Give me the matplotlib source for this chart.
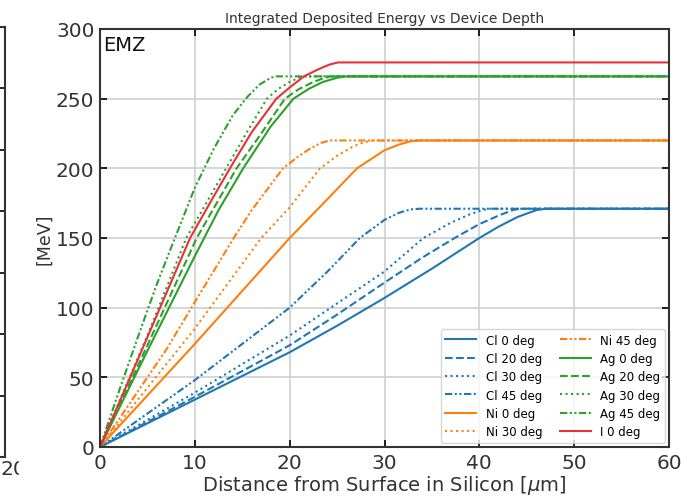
import matplotlib
matplotlib.use('agg')
import matplotlib.pyplot as plt
from matplotlib.patches import Rectangle

# depth in um, integrated energy in MeV
cl0_x = [0, 10, 20, 25, 30, 35, 40, 42, 44, 46, 47, 60]
cl0_y = [0, 34, 68, 87, 107, 128, 150, 158, 165, 170, 171, 171]
cl20_x = [0, 10, 20, 25, 30, 34, 37.4, 40, 42, 43.5, 44.3, 60]
cl20_y = [0, 36, 73, 95, 118, 136, 150, 160, 166, 170, 171, 171]
cl30_x = [0, 10, 20, 25, 30, 34.1, 37, 39, 40.3, 41, 60]
cl30_y = [0, 39, 80, 103, 126, 150, 161, 167, 170, 171, 171]
cl45_x = [0, 10, 20, 24, 27.4, 30, 31.5, 32.7, 33.7, 60]
cl45_y = [0, 48, 100, 126, 150, 163, 168, 170.5, 171, 171]

ni0_x = [0, 10, 20, 24, 27.1, 30, 31.5, 32.8, 33.8, 60]
ni0_y = [0, 74, 150, 178, 200, 213, 217, 219.5, 220, 220]
ni30_x = [0, 10, 17, 20, 23.2, 25, 26.5, 27.7, 28.8, 60]
ni30_y = [0, 85, 150, 172, 200, 209, 215, 218.5, 220, 220]
ni45_x = [0, 7, 10, 14.1, 16, 19.3, 20.8, 22, 23.2, 24.2, 60]
ni45_y = [0, 70, 104, 150, 170, 200, 208, 213.5, 218, 220, 220]

ag0_x = [0, 5, 10, 12.5, 15.1, 18, 20.4, 22, 23.5, 25, 26, 60]
ag0_y = [0, 69, 137, 170, 200, 230, 250, 257, 262, 265, 266, 266]
ag20_x = [0, 5, 10.2, 14.4, 17, 19.5, 21, 22.5, 23.5, 24.3, 60]
ag20_y = [0, 73, 150, 200, 225, 250, 257, 262, 264.5, 266, 266]
ag30_x = [0, 5, 9.1, 13.3, 15.5, 17.6, 18.8, 20, 21.3, 60]
ag30_y = [0, 80, 150, 200, 226, 250, 257, 262, 266, 266]
ag45_x = [0, 2, 4, 6, 7.9, 10, 12, 14, 15.5, 16.8, 18, 18.6, 60]
ag45_y = [0, 40, 79, 117, 150, 186, 214, 238, 251, 260, 265, 266, 266]

i0_x = [0, 4, 9.5, 12, 13.7, 16, 18.6, 20, 21.5, 23, 24.2, 25.1, 60]
i0_y = [0, 63, 150, 180, 200, 226, 250, 258, 266, 271, 274.5, 276, 276]

BLUE, ORANGE, GREEN, RED = '#1f77b4', '#ff7f0e', '#2ca02c', '#e8303a'
DASHDOT = (0, (3.5, 1.2, 1, 1.2, 1, 1.2))
INK = '#333333'

series = [
    ('Cl 0 deg', cl0_x, cl0_y, BLUE, '-'),
    ('Cl 20 deg', cl20_x, cl20_y, BLUE, '--'),
    ('Cl 30 deg', cl30_x, cl30_y, BLUE, ':'),
    ('Cl 45 deg', cl45_x, cl45_y, BLUE, DASHDOT),
    ('Ni 0 deg', ni0_x, ni0_y, ORANGE, '-'),
    ('Ni 30 deg', ni30_x, ni30_y, ORANGE, ':'),
    ('Ni 45 deg', ni45_x, ni45_y, ORANGE, DASHDOT),
    ('Ag 0 deg', ag0_x, ag0_y, GREEN, '-'),
    ('Ag 20 deg', ag20_x, ag20_y, GREEN, '--'),
    ('Ag 30 deg', ag30_x, ag30_y, GREEN, ':'),
    ('Ag 45 deg', ag45_x, ag45_y, GREEN, DASHDOT),
    ('I 0 deg', i0_x, i0_y, RED, '-'),
]

fig = plt.figure(figsize=(6.9, 5.02), dpi=100)

# sliver of the neighbouring panel cut off at the left edge
left = fig.add_axes([-0.3, 1 - 458 / 502, 0.3 + 5 / 690, 430 / 502])
left.set_xlim(0, 20)
left.set_ylim(0, 7)
left.set_yticks(range(8))
left.set_xticks([])
left.tick_params(direction='in', right=True, left=False, labelleft=False,
                 length=5, width=1.2)
for s in left.spines.values():
    s.set_linewidth(1.5)
    s.set_color(INK)
fig.text(1 / 690, 1 - 470 / 502, '20', fontsize=14.5, color=INK,
         ha='left', va='center')
# the next panel's white background hides the rest of that label
fig.patches.append(Rectangle((19 / 690, 0), 40 / 690, 0.1, color='white',
                             transform=fig.transFigure, zorder=4))

ax = fig.add_axes([100 / 690, 1 - 448 / 502, 569 / 690, 418 / 502])
ax.set_zorder(5)
for label, xs, ys, color, ls in series:
    ax.plot(xs, ys, color=color, linestyle=ls, linewidth=1.5, label=label)

ax.set_xlim(0, 60)
ax.set_ylim(0, 300)
ax.grid(True, color='#d0d0d0', linewidth=1.2)
ax.tick_params(direction='in', top=True, right=True, length=5, width=1.2,
               labelsize=14.5, labelcolor=INK, pad=4)
for s in ax.spines.values():
    s.set_linewidth(1.5)
    s.set_color(INK)

ax.set_xlabel(r'Distance from Surface in Silicon [$\mu$m]', fontsize=14,
              color=INK, labelpad=1)
ax.set_ylabel('[MeV]', fontsize=12.5, color=INK, labelpad=2)
ax.set_title('Integrated Deposited Energy vs Device Depth', fontsize=10,
             color=INK, pad=5)
ax.text(0.006, 0.985, 'EMZ', transform=ax.transAxes, fontsize=14,
        va='top', ha='left', color='#111111')

ax.legend(loc='lower right', ncol=2, fontsize=8.5, handlelength=2.6,
          columnspacing=1.5, labelspacing=0.45, borderaxespad=0.35,
          framealpha=0.8, edgecolor='#cccccc')

fig.savefig('out.png', dpi=100)
plt.close(fig)
